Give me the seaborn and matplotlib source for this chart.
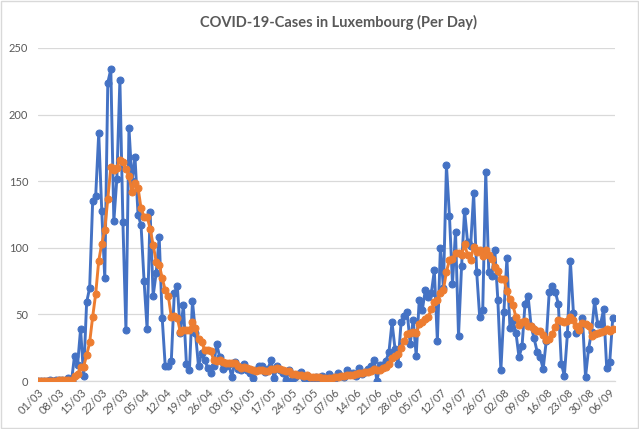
import numpy as np
import pandas as pd
import seaborn as sns
import matplotlib.pyplot as plt
import matplotlib.dates as mdates
from matplotlib.patches import Rectangle

# Daily new cases, one list per month (2020)
cases_mar = [0, 0, 0, 0, 1, 0, 1, 1, 1, 0, 2, 0, 19, 12, 39, 4, 59, 70, 135, 139,
             186, 128, 77, 224, 234, 120, 152, 226, 119, 38, 190]
cases_apr = [150, 168, 125, 117, 75, 39, 127, 64, 81, 108, 47, 11, 11, 15, 66, 71,
             36, 57, 13, 8, 60, 36, 11, 21, 16, 10, 6, 11, 28, 18]
cases_may = [9, 11, 13, 3, 14, 9, 8, 13, 8, 6, 2, 8, 11, 11, 7, 9, 16, 2, 11, 8,
             6, 1, 8, 0, 3, 5, 7, 2, 4, 1, 0]
cases_jun = [3, 2, 4, 1, 5, 3, 2, 6, 4, 3, 8, 5, 6, 4, 10, 5, 7, 9, 11, 16,
             0, 12, 12, 15, 22, 44, 24, 13, 44, 49]
cases_jul = [52, 28, 46, 19, 61, 53, 68, 63, 66, 83, 30, 100, 70, 162, 124, 73, 112,
             34, 86, 128, 104, 101, 141, 82, 48, 53, 157, 82, 79, 98, 61]
cases_aug = [8, 52, 92, 40, 46, 36, 18, 26, 58, 64, 41, 32, 22, 18, 9, 30, 67, 71,
             67, 58, 13, 4, 35, 90, 51, 36, 40, 47, 3, 24, 37]
cases_sep = [60, 43, 43, 54, 10, 14, 47]

cases = cases_mar + cases_apr + cases_may + cases_jun + cases_jul + cases_aug + cases_sep
dates = pd.date_range('2020-03-01', periods=len(cases), freq='D')

df = pd.DataFrame({'date': dates, 'cases': cases})
# orange line = 7 day moving average of the daily cases
df['avg7'] = df['cases'].rolling(7, min_periods=1).mean()

sns.set_style('white')
plt.rcParams['font.family'] = ['Lato', 'DejaVu Sans']

blue = '#4472C4'
orange = '#ED7D31'
grey = '#595959'

fig = plt.figure(figsize=(6.39, 4.29), dpi=100)
ax = fig.add_axes([38 / 639, 1 - 381 / 429, (615 - 38) / 639, (381 - 48) / 429])

sns.lineplot(data=df, x='date', y='cases', ax=ax, color=blue, linewidth=2.1,
             marker='o', markersize=5, markeredgecolor=blue, zorder=3)
sns.lineplot(data=df, x='date', y='avg7', ax=ax, color=orange, linewidth=2.1,
             marker='o', markersize=5, markeredgecolor=orange, zorder=4)

ax.set_ylim(0, 250)
ax.set_yticks(np.arange(0, 251, 50))
ax.set_xlim(dates[0] - pd.Timedelta(hours=2), dates[-1] + pd.Timedelta(hours=18))
ticks = pd.date_range('2020-03-01', '2020-09-06', freq='7D')
ax.set_xticks(ticks)
ax.xaxis.set_major_formatter(mdates.DateFormatter('%d/%m'))

ax.grid(axis='y', color='#d9d9d9', linewidth=0.9)
ax.set_axisbelow(True)
for s in ['top', 'right', 'left']:
    ax.spines[s].set_visible(False)
ax.spines['bottom'].set_color('#d9d9d9')
ax.spines['bottom'].set_linewidth(0.9)

ax.tick_params(axis='y', length=0, pad=7, labelsize=8, labelcolor=grey)
ax.tick_params(axis='x', length=0, pad=4, labelsize=8, labelcolor=grey)
plt.setp(ax.get_xticklabels(), rotation=45, ha='right', rotation_mode='anchor')
ax.set_xlabel('')
ax.set_ylabel('')

fig.text(0.529, 0.948, 'COVID-19-Cases in Luxembourg (Per Day)', ha='center', va='center',
         fontsize=10.5, fontweight='bold', color=grey)

fig.patches.append(Rectangle((0.001, 0.002), 0.997, 0.996, transform=fig.transFigure,
                             fill=False, edgecolor='#d9d9d9', linewidth=1))

fig.savefig('out.png', dpi=100)
